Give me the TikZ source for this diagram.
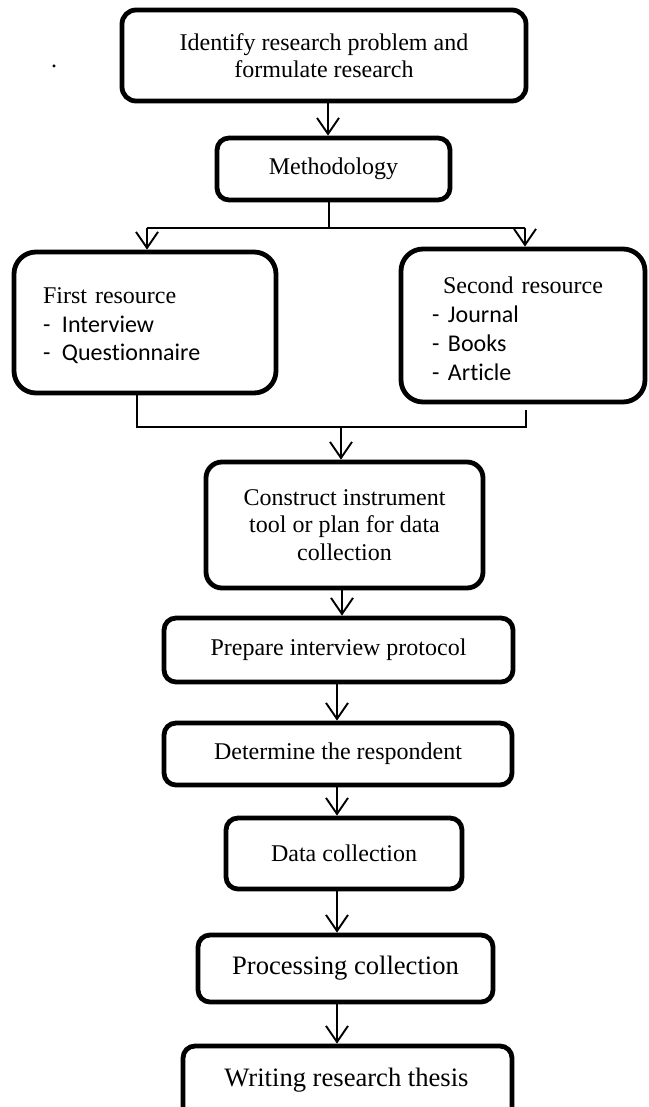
\documentclass[tikz,border=0pt]{standalone}
\usepackage{fontspec}
\setmainfont{Liberation Serif}
\setsansfont{Carlito}[Ligatures=NoCommon]
\usetikzlibrary{arrows.meta}
\newcommand\dashitem[2]{\makebox[#1][l]{-}#2}
\begin{document}
\begin{tikzpicture}[x=0.5pt,y=-0.5pt,
  box/.style={draw, line width=2.4pt, rounded corners=#1, inner sep=0pt, align=center,
    font=\fontsize{12}{13.8}\selectfont},
  box/.default=6pt,
  bigtext/.style={font=\fontsize{13.3}{15}\selectfont},
  arr/.style={line width=0.95pt, -{Straight Barb[length=8pt,width=11pt]}},
  ln/.style={line width=0.95pt}]
\useasboundingbox (0,0) rectangle (648,1107);
\clip (0,0) rectangle (648,1107);

\node[box=7pt, minimum width=202pt, minimum height=45.5pt] (idf) at (324,55.5)
  {Identify research problem and\\formulate research};
\node[inner sep=0pt, font=\fontsize{12}{14}\selectfont] (dot) at (54,66) {.};
\node[box=6pt, minimum width=116.5pt, minimum height=31pt] (meth) at (333.5,169) {Methodology};

\node[box=11pt, minimum width=131pt, minimum height=70.5pt, text width=102pt, align=left,
  font=\fontsize{12}{14.4}\selectfont] (first) at (145,322.5)
  {\rule{0pt}{11.2pt}First resource\par
   {\sffamily\dashitem{9.5pt}{Interview}}\par
   {\sffamily\dashitem{9.5pt}{Questionnaire}}};

\node[box=11pt, minimum width=122pt, minimum height=76.5pt, text width=91pt, align=left,
  font=\fontsize{12}{14.5}\selectfont] (second) at (523,325.5)
  {\makebox[\linewidth]{\rule{0pt}{11.2pt}Second resource}\par
   {\sffamily\dashitem{8pt}{Journal}}\par
   {\sffamily\dashitem{8pt}{Books}}\par
   {\sffamily\dashitem{8pt}{Article}}};

\node[box=8pt, minimum width=138.5pt, minimum height=63pt] (con) at (344.5,525)
  {Construct instrument\\tool or plan for data\\collection};
\node[box=6pt, minimum width=174.5pt, minimum height=32pt] (prep) at (338.5,650) {Prepare interview protocol};
\node[box=6pt, minimum width=174pt, minimum height=31pt] (det) at (338,754) {Determine the respondent};
\node[box=6pt, minimum width=118pt, minimum height=35.5pt] (data) at (344,853.5) {Data collection};
\node[box=6pt, bigtext, minimum width=147.5pt, minimum height=33.5pt] (proc) at (345.5,968.5) {Processing collection};
\node[box=6pt, bigtext, minimum width=164.5pt, minimum height=40pt] (wri) at (347.5,1086) {};
\node[bigtext, inner sep=0pt] (writext) at (346.5,1080) {Writing research thesis};

% connectors
\coordinate (a1) at (328,0);
\draw[arr] (idf.south -| a1) -- (meth.north -| a1);

\coordinate (spc) at (329,228);
\coordinate (spl) at (147,228);
\coordinate (spr) at (525,228);
\draw[ln] (meth.south -| spc) -- (spc);
\draw[ln] (spl) -- (spr);
\draw[arr] (spl) -- (spl |- first.north);
\draw[arr] (spr) -- (spr |- second.north);

\coordinate (mgl) at (137,427);
\coordinate (mgr) at (526,427);
\coordinate (mgrtop) at (526,410);
\coordinate (mgc) at (341,427);
\draw[ln] (first.south -| mgl) -- (mgl) -- (mgr) -- (mgrtop);
\draw[arr] (mgc) -- (mgc |- con.north);

\coordinate (c1) at (342,0);
\draw[arr] (con.south -| c1) -- (prep.north -| c1);
\coordinate (c2) at (337,0);
\draw[arr] (prep.south -| c2) -- (det.north -| c2);
\draw[arr] (det.south -| c2) -- (data.north -| c2);
\draw[arr] (data.south -| c2) -- (proc.north -| c2);
\draw[arr] (proc.south -| c2) -- (wri.north -| c2);
\end{tikzpicture}
\end{document}
